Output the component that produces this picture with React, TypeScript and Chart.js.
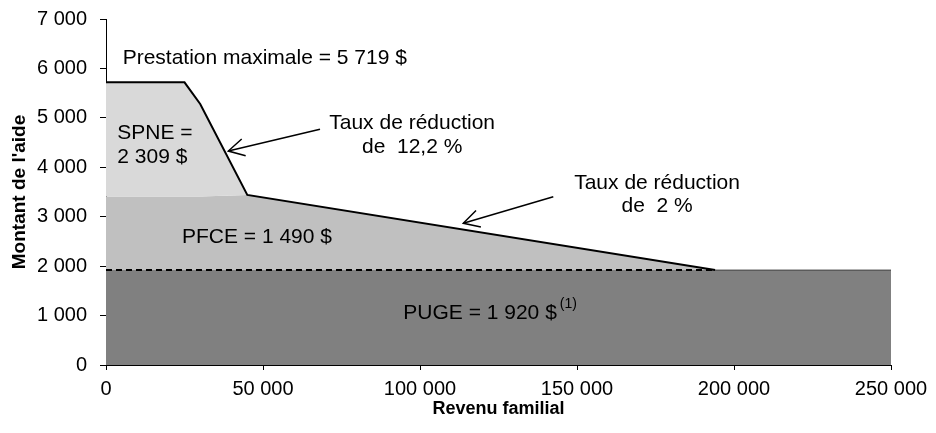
import React, { useEffect, useRef } from 'react';
import { Chart, registerables } from 'chart.js';

Chart.register(...registerables);

// ---- Data ----
const incomeBreaks = [0, 25000, 30000, 45000, 194000, 250000];
const totalBenefit = [5719, 5719, 5280, 3440, 1920, 1920];
const pfceTop = [3410, 3410, 3410, 3440, 1920, 1920];
const pugeLevel = [1920, 1920, 1920, 1920, 1920, 1920];
const dashedEnds = [0, 194000];
const pugeAmount = 1920;
const xTickLabels = ['0', '50 000', '100 000', '150 000', '200 000', '250 000'];
const yTickLabels = ['0', '1 000', '2 000', '3 000', '4 000', '5 000', '6 000', '7 000'];

const FONT = '"Liberation Sans", Arial, sans-serif';

const pts = (xs: number[], ys: number[]) => xs.map((x, i) => ({ x, y: ys[i] }));

type Label = { text: string; x: number; y: number; align: CanvasTextAlign };
const labels: Label[] = [
  { text: 'Prestation maximale = 5 719 $', x: 5300, y: 6089, align: 'left' },
  { text: 'SPNE =', x: 3600, y: 4566, align: 'left' },
  { text: '2 309 $', x: 3600, y: 4093, align: 'left' },
  { text: 'Taux de réduction', x: 97500, y: 4769, align: 'center' },
  { text: 'de  12,2 %', x: 97500, y: 4295, align: 'center' },
  { text: 'Taux de réduction', x: 175500, y: 3554, align: 'center' },
  { text: 'de  2 %', x: 175500, y: 3101, align: 'center' },
  { text: 'PFCE = 1 490 $', x: 24200, y: 2474, align: 'left' },
];
const arrows = [
  { from: [68150, 4768], to: [38950, 4329] },
  { from: [142450, 3405], to: [113790, 2867] },
];

const annotationPlugin = {
  id: 'annotations',
  afterDraw(chart: any) {
    const { ctx, scales } = chart;
    const sx = scales.x;
    const sy = scales.y;
    ctx.save();
    ctx.fillStyle = '#000';
    ctx.textBaseline = 'alphabetic';
    ctx.font = `21px ${FONT}`;
    for (const l of labels) {
      ctx.textAlign = l.align;
      ctx.fillText(l.text, sx.getPixelForValue(l.x), sy.getPixelForValue(l.y));
    }
    // PUGE with superscript
    const px = sx.getPixelForValue(94680);
    const py = sy.getPixelForValue(924);
    ctx.textAlign = 'left';
    const main = 'PUGE = 1 920 $';
    ctx.fillText(main, px, py);
    const w = ctx.measureText(main).width;
    ctx.font = `14px ${FONT}`;
    ctx.fillText('(1)', px + w + 3, py - 11);

    // arrows
    ctx.strokeStyle = '#000';
    ctx.lineWidth = 1.5;
    for (const a of arrows) {
      const x0 = sx.getPixelForValue(a.from[0]);
      const y0 = sy.getPixelForValue(a.from[1]);
      const x1 = sx.getPixelForValue(a.to[0]);
      const y1 = sy.getPixelForValue(a.to[1]);
      ctx.beginPath();
      ctx.moveTo(x0, y0);
      ctx.lineTo(x1, y1);
      ctx.stroke();
      const ang = Math.atan2(y0 - y1, x0 - x1);
      const len = 18;
      const spread = 0.5;
      ctx.beginPath();
      ctx.moveTo(x1 + len * Math.cos(ang - spread), y1 + len * Math.sin(ang - spread));
      ctx.lineTo(x1, y1);
      ctx.lineTo(x1 + len * Math.cos(ang + spread), y1 + len * Math.sin(ang + spread));
      ctx.stroke();
    }
    ctx.restore();
  },
};

export default function App() {
  const ref = useRef<HTMLCanvasElement>(null);
  useEffect(() => {
    if (!ref.current) return;
    Chart.defaults.font.family = FONT;
    const chart = new Chart(ref.current, {
      type: 'line',
      data: {
        datasets: [
          {
            label: 'outline',
            data: pts(incomeBreaks, totalBenefit),
            borderColor: '#000',
            borderWidth: 2,
            fill: false,
            pointRadius: 0,
            segment: {
              borderColor: (c: any) => (c.p0DataIndex >= 4 ? '#404040' : '#000'),
              borderWidth: (c: any) => (c.p0DataIndex >= 4 ? 1 : 2),
            },
          } as any,
          {
            label: 'dashed',
            data: pts(dashedEnds, [pugeAmount, pugeAmount]),
            borderColor: '#000',
            borderWidth: 2,
            borderDash: [6, 4],
            fill: false,
            pointRadius: 0,
          },
          {
            label: 'SPNE',
            data: pts(incomeBreaks, totalBenefit),
            borderWidth: 0,
            backgroundColor: '#d9d9d9',
            fill: '+1',
            pointRadius: 0,
          },
          {
            label: 'PFCE',
            data: pts(incomeBreaks, pfceTop),
            borderWidth: 0,
            backgroundColor: '#c0c0c0',
            fill: '+1',
            pointRadius: 0,
          },
          {
            label: 'PUGE',
            data: pts(incomeBreaks, pugeLevel),
            borderWidth: 0,
            backgroundColor: '#808080',
            fill: 'origin',
            pointRadius: 0,
          },
          {
            label: 'edge',
            data: pts([incomeBreaks[5], incomeBreaks[5]], [0, pugeAmount]),
            borderColor: '#404040',
            borderWidth: 1,
            fill: false,
            pointRadius: 0,
          },
        ],
      },
      options: {
        responsive: false,
        animation: false,
        devicePixelRatio: 1,
        layout: { padding: { top: 19, right: 45, bottom: 0, left: 0 } },
        plugins: { legend: { display: false }, tooltip: { enabled: false } },
        scales: {
          x: {
            type: 'linear',
            min: 0,
            max: 250000,
            z: 1,
            afterFit: (s: any) => {
              s.height = 68;
              s.paddingLeft = 0;
              s.paddingRight = 0;
            },
            ticks: {
              stepSize: 50000,
              autoSkip: false,
              maxRotation: 0,
              color: '#000',
              padding: 7,
              font: { size: 20, family: FONT },
              callback: (_v: any, i: number) => xTickLabels[i],
            },
            grid: { drawOnChartArea: false, drawTicks: true, tickLength: 5, tickColor: '#000', color: '#000' },
            border: { display: true, color: '#000', width: 1 },
            title: {
              display: true,
              text: 'Revenu familial',
              color: '#000',
              font: { size: 18, weight: 'bold', family: FONT },
              padding: { top: 0, bottom: 13 },
            },
          },
          y: {
            type: 'linear',
            min: 0,
            max: 7000,
            z: 1,
            afterFit: (s: any) => {
              s.width = 106;
              s.paddingTop = 0;
              s.paddingBottom = 0;
            },
            ticks: {
              stepSize: 1000,
              color: '#000',
              padding: 13,
              font: { size: 20, family: FONT },
              callback: (_v: any, i: number) => yTickLabels[i],
            },
            grid: { drawOnChartArea: false, drawTicks: true, tickLength: 6, tickColor: '#000', color: '#000' },
            border: { display: true, color: '#000', width: 1 },
            title: {
              display: true,
              text: "Montant de l'aide",
              color: '#000',
              font: { size: 19, weight: 'bold', family: FONT },
              padding: { top: 8, bottom: 0 },
            },
          },
        },
      } as any,
      plugins: [annotationPlugin],
    });
    return () => chart.destroy();
  }, []);
  return (
    <div style={{ position: 'fixed', left: 0, top: 0, width: 936, height: 433 }}>
      <canvas ref={ref} width={936} height={433} style={{ display: 'block', width: 936, height: 433 }} />
    </div>
  );
}
